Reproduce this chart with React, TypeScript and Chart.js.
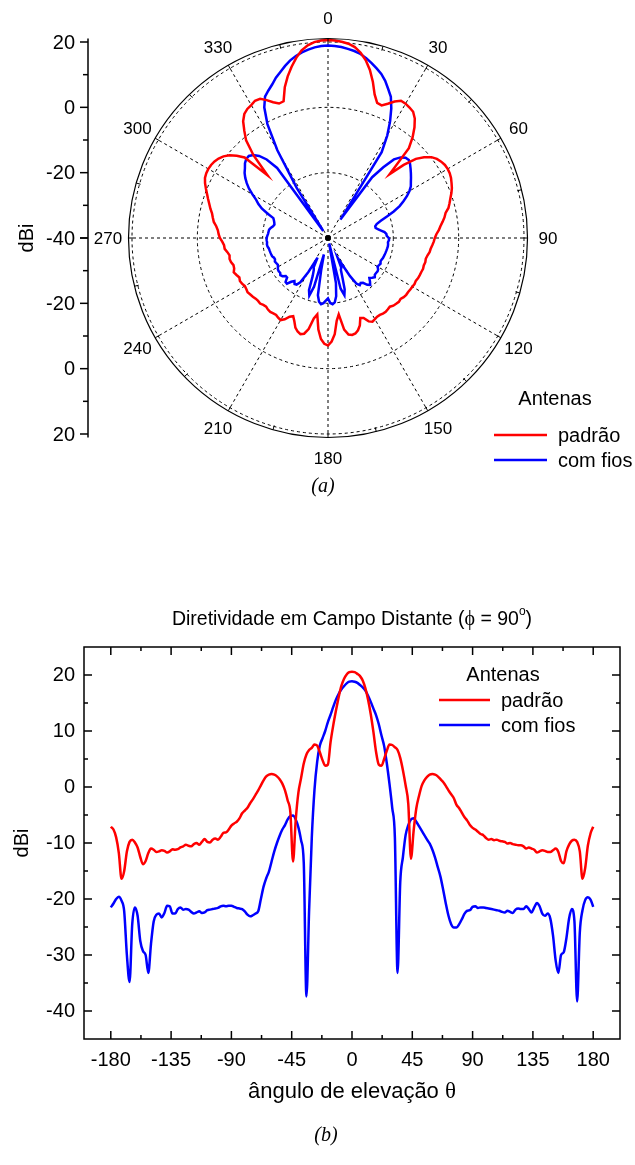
import React, { useEffect, useRef } from 'react';
import { Chart, registerables } from 'chart.js';

Chart.register(...registerables);

const SANS = '"Liberation Sans", Arial, Helvetica, sans-serif';
const SERIF = '"Liberation Serif", "Times New Roman", "DejaVu Serif", serif';

// elevation angle theta (deg), -180..180 step 2
const THETA = [
  -180, -178, -176, -174, -172, -170, -168, -166, -164, -162, -160, -158, -156, -154, -152, -150, -148, -146, -144, -142,
  -140, -138, -136, -134, -132, -130, -128, -126, -124, -122, -120, -118, -116, -114, -112, -110, -108, -106, -104, -102,
  -100, -98, -96, -94, -92, -90, -88, -86, -84, -82, -80, -78, -76, -74, -72, -70, -68, -66, -64, -62,
  -60, -58, -56, -54, -52, -50, -48, -46, -44, -42, -40, -38, -36, -34, -32, -30, -28, -26, -24, -22,
  -20, -18, -16, -14, -12, -10, -8, -6, -4, -2, 0, 2, 4, 6, 8, 10, 12, 14, 16, 18,
  20, 22, 24, 26, 28, 30, 32, 34, 36, 38, 40, 42, 44, 46, 48, 50, 52, 54, 56, 58,
  60, 62, 64, 66, 68, 70, 72, 74, 76, 78, 80, 82, 84, 86, 88, 90, 92, 94, 96, 98,
  100, 102, 104, 106, 108, 110, 112, 114, 116, 118, 120, 122, 124, 126, 128, 130, 132, 134, 136, 138,
  140, 142, 144, 146, 148, 150, 152, 154, 156, 158, 160, 162, 164, 166, 168, 170, 172, 174, 176, 178,
  180,
];

// "padrão" antenna directivity (dBi)
const PADRAO = [
  -7.1, -7.6, -9.0, -11.8, -16.4, -15.0, -11.5, -9.8, -9.4, -9.9, -10.8, -12.5, -13.8, -13.2, -11.8, -11.0, -11.2, -11.6, -11.5, -11.3,
  -11.4, -11.7, -11.5, -11.1, -11.2, -11.1, -10.8, -10.6, -10.3, -10.5, -10.6, -10.2, -10.0, -10.3, -9.8, -9.3, -9.8, -9.9, -9.4, -9.2,
  -9.4, -8.9, -8.2, -8.1, -7.6, -6.9, -6.5, -6.2, -5.6, -4.7, -4.2, -3.7, -2.9, -2.2, -1.4, -0.6, 0.3, 1.2, 1.9, 2.2,
  2.3, 2.2, 1.9, 1.4, 0.6, -0.6, -2.4, -4.5, -13.3, -5.9, -1.0, 1.6, 4.2, 5.8, 6.6, 7.0, 7.6, 7.4, 6.2, 4.8,
  3.8, 4.0, 8.0, 11.0, 13.6, 16.0, 18.0, 19.3, 20.1, 20.5, 20.6, 20.5, 20.2, 19.8, 19.0, 17.6, 15.6, 13.0, 9.8, 6.2,
  4.0, 3.8, 5.0, 6.5, 7.6, 7.5, 7.1, 6.6, 5.2, 3.0, 0.3, -3.0, -12.8, -7.8, -3.8, -1.6, 0.2, 1.2, 1.8, 2.2,
  2.3, 2.2, 1.9, 1.4, 0.9, 0.2, -0.6, -1.3, -2.0, -3.2, -3.8, -4.6, -5.4, -6.0, -6.8, -7.3, -7.6, -8.0, -8.4, -8.6,
  -9.1, -9.4, -9.3, -9.5, -9.4, -9.6, -9.7, -9.8, -10.1, -10.0, -10.2, -10.3, -10.4, -10.4, -10.6, -11.0, -10.8, -11.0, -11.2, -11.7,
  -11.5, -11.3, -11.4, -11.6, -11.6, -11.3, -11.0, -11.6, -13.2, -13.6, -11.5, -10.3, -9.6, -9.4, -9.8, -11.5, -16.4, -14.5, -10.5, -8.3,
  -7.1,
];

// "com fios" antenna directivity (dBi)
const COM_FIOS = [
  -21.5, -20.8, -20.0, -19.6, -20.3, -22.2, -30.0, -34.8, -24.5, -21.5, -23.0, -27.5, -29.3, -30.0, -33.2, -28.0, -24.0, -22.8, -22.6, -23.3,
  -22.5, -21.2, -21.3, -22.6, -22.6, -21.8, -21.5, -21.9, -21.8, -21.9, -22.3, -22.6, -22.4, -22.2, -22.5, -22.4, -22.0, -21.9, -21.8, -21.7,
  -21.6, -21.3, -21.2, -21.3, -21.2, -21.2, -21.4, -21.6, -21.7, -21.8, -22.2, -22.8, -23.1, -22.9, -22.6, -22.2, -20.0, -17.8, -16.3, -15.1,
  -13.3, -11.5, -10.0, -8.7, -7.6, -6.8, -5.8, -5.2, -5.1, -5.8, -7.2, -9.5, -13.5, -37.4, -22.0, -9.0, -0.5, 4.5, 7.4, 8.7,
  10.0, 11.6, 12.9, 14.3, 15.6, 16.6, 17.4, 18.0, 18.5, 18.8, 18.9, 18.8, 18.6, 18.2, 17.8, 17.2, 16.3, 15.2, 14.0, 12.8,
  11.2, 9.2, 7.3, 4.2, 0.5, -3.7, -9.0, -33.2, -17.0, -12.5, -8.6, -6.8, -5.8, -5.6, -6.2, -7.0, -7.8, -8.6, -9.4, -10.1,
  -11.2, -12.6, -14.3, -16.0, -18.3, -20.8, -23.0, -24.5, -25.1, -25.1, -24.5, -23.6, -22.6, -22.1, -22.0, -21.4, -21.3, -21.6, -21.5, -21.5,
  -21.6, -21.7, -21.8, -21.9, -22.0, -22.1, -22.3, -22.4, -22.1, -22.3, -22.5, -21.9, -21.7, -21.8, -21.8, -21.3, -21.8, -22.4, -21.5, -20.7,
  -21.3, -22.6, -23.0, -22.6, -23.5, -26.5, -31.0, -33.2, -30.0, -29.5, -27.0, -23.5, -21.8, -24.0, -38.3, -26.0, -22.0, -20.2, -19.7, -20.1,
  -21.4,
];

const SERIES_LABELS = ['padrão', 'com fios'];
const SERIES_COLORS = ['#ff0000', '#0000ff'];
const LEGEND_TITLE = 'Antenas';

// polar plot
const POLAR_LABEL_ANGLES = [0, 30, 60, 90, 120, 150, 180, 210, 240, 270, 300, 330];
const R_MIN = -40;
const R_MAX = 20;
const R_MAJOR = [20, 0, -20, -40];
const R_MINOR = [10, -10, -30];

// cartesian plot
const X_MAJOR = [-180, -135, -90, -45, 0, 45, 90, 135, 180];
const X_MINOR = [-157.5, -112.5, -67.5, -22.5, 22.5, 67.5, 112.5, 157.5];
const Y_MAJOR = [-40, -30, -20, -10, 0, 10, 20];
const Y_MINOR = [-45, -35, -25, -15, -5, 5, 15, 25];

const TITLE_B = ['Diretividade em Campo Distante (', 'ϕ', ' = 90', 'o', ')'];
const XTITLE_B = ['ângulo de elevação ', 'θ'];

type Part = { text: string; font: string; dy?: number };

function drawRich(ctx: CanvasRenderingContext2D, parts: Part[], cx: number, cy: number) {
  let total = 0;
  for (const p of parts) {
    ctx.font = p.font;
    total += ctx.measureText(p.text).width;
  }
  let x = cx - total / 2;
  ctx.textAlign = 'left';
  ctx.textBaseline = 'middle';
  for (const p of parts) {
    ctx.font = p.font;
    ctx.fillText(p.text, x, cy + (p.dy || 0));
    x += ctx.measureText(p.text).width;
  }
}

function drawLegend(ctx: CanvasRenderingContext2D, chart: any, titleX: number, titleY: number, lineX0: number, lineX1: number, textX: number, rowY: number[]) {
  ctx.save();
  ctx.fillStyle = '#000';
  ctx.font = `20px ${SANS}`;
  ctx.textAlign = 'center';
  ctx.textBaseline = 'middle';
  ctx.fillText(LEGEND_TITLE, titleX, titleY);
  chart.data.datasets.forEach((ds: any, i: number) => {
    ctx.strokeStyle = ds.borderColor;
    ctx.lineWidth = 2.5;
    ctx.beginPath();
    ctx.moveTo(lineX0, rowY[i]);
    ctx.lineTo(lineX1, rowY[i]);
    ctx.stroke();
    ctx.textAlign = 'left';
    ctx.fillText(ds.label, textX, rowY[i] + 1);
  });
  ctx.restore();
}

const polarDecor = {
  id: 'polarDecor',
  afterDatasetsDraw(chart: any) {
    const ctx: CanvasRenderingContext2D = chart.ctx;
    const s = chart.scales.r;
    const cx = s.xCenter;
    const cy = s.yCenter;
    const R = s.drawingArea;
    const Ro = R + 3.5;
    ctx.save();
    ctx.strokeStyle = '#000';
    ctx.lineWidth = 1.2;
    ctx.setLineDash([]);
    ctx.beginPath();
    ctx.arc(cx, cy, Ro, 0, Math.PI * 2);
    ctx.stroke();
    const n = chart.data.labels.length;
    const step = 360 / n;
    ctx.lineWidth = 1;
    for (let a = 0; a < 360; a += 15) {
      const idx = Math.round(a / step);
      const p0 = s.getPointPosition(idx, R - 1);
      const p1 = s.getPointPosition(idx, Ro);
      ctx.beginPath();
      ctx.moveTo(p0.x, p0.y);
      ctx.lineTo(p1.x, p1.y);
      ctx.stroke();
    }
    ctx.fillStyle = '#000';
    ctx.font = `17px ${SANS}`;
    ctx.textAlign = 'center';
    ctx.textBaseline = 'middle';
    POLAR_LABEL_ANGLES.forEach((a) => {
      const idx = Math.round(a / step);
      const p = s.getPointPosition(idx, R + 24);
      ctx.fillText(String(a), p.x, p.y + 1);
    });
    ctx.beginPath();
    ctx.arc(cx, cy, 3, 0, Math.PI * 2);
    ctx.fill();
    const ax = 88;
    ctx.lineWidth = 1.5;
    ctx.beginPath();
    ctx.moveTo(ax, cy - Ro);
    ctx.lineTo(ax, cy + Ro);
    ctx.stroke();
    ctx.font = `20px ${SANS}`;
    ctx.textAlign = 'right';
    R_MAJOR.forEach((v) => {
      const d = s.getDistanceFromCenterForValue(v);
      [cy - d, cy + d].forEach((y) => {
        ctx.beginPath();
        ctx.moveTo(ax - 8, y);
        ctx.lineTo(ax, y);
        ctx.stroke();
      });
      const ys = d === 0 ? [cy] : [cy - d, cy + d];
      ys.forEach((y) => ctx.fillText(String(v), ax - 13, y + 1));
    });
    R_MINOR.forEach((v) => {
      const d = s.getDistanceFromCenterForValue(v);
      [cy - d, cy + d].forEach((y) => {
        ctx.beginPath();
        ctx.moveTo(ax - 5, y);
        ctx.lineTo(ax, y);
        ctx.stroke();
      });
    });
    ctx.save();
    ctx.translate(27, cy);
    ctx.rotate(-Math.PI / 2);
    ctx.textAlign = 'center';
    ctx.font = `20px ${SANS}`;
    ctx.fillText('dBi', 0, 0);
    ctx.restore();
    drawLegend(ctx, chart, 555, 399, 494, 547, 558, [435, 460]);
    ctx.fillStyle = '#000';
    ctx.font = `italic 20px ${SERIF}`;
    ctx.textAlign = 'center';
    ctx.textBaseline = 'middle';
    ctx.fillText('(a)', 323, 487);
    ctx.restore();
  },
};

const cartDecor = {
  id: 'cartDecor',
  afterDatasetsDraw(chart: any) {
    const ctx: CanvasRenderingContext2D = chart.ctx;
    const { left, right, top, bottom } = chart.chartArea;
    const xs = chart.scales.x;
    const ys = chart.scales.y;
    ctx.save();
    ctx.strokeStyle = '#000';
    ctx.lineWidth = 1.5;
    ctx.strokeRect(left, top, right - left, bottom - top);
    const tick = (vals: number[], len: number) => {
      vals.forEach((v) => {
        const x = xs.getPixelForValue(v);
        ctx.beginPath();
        ctx.moveTo(x, bottom);
        ctx.lineTo(x, bottom - len);
        ctx.moveTo(x, top);
        ctx.lineTo(x, top + len);
        ctx.stroke();
      });
    };
    const tickY = (vals: number[], len: number) => {
      vals.forEach((v) => {
        const y = ys.getPixelForValue(v);
        ctx.beginPath();
        ctx.moveTo(left, y);
        ctx.lineTo(left + len, y);
        ctx.moveTo(right, y);
        ctx.lineTo(right - len, y);
        ctx.stroke();
      });
    };
    tick(X_MAJOR, 8);
    tick(X_MINOR, 4);
    tickY(Y_MAJOR, 8);
    tickY(Y_MINOR.filter((v) => v > -45 && v < 25), 4);
    ctx.fillStyle = '#000';
    const cx = (left + right) / 2;
    drawRich(ctx, [
      { text: TITLE_B[0], font: `19.5px ${SANS}` },
      { text: TITLE_B[1], font: `20px ${SERIF}` },
      { text: TITLE_B[2], font: `19.5px ${SANS}` },
      { text: TITLE_B[3], font: `12px ${SANS}`, dy: -8 },
      { text: TITLE_B[4], font: `19.5px ${SANS}` },
    ], cx, 60);
    drawRich(ctx, [
      { text: XTITLE_B[0], font: `22px ${SANS}` },
      { text: XTITLE_B[1], font: `23px ${SERIF}` },
    ], cx, 532);
    drawLegend(ctx, chart, 503, 115, 439, 490, 501, [140, 165]);
    ctx.font = `italic 20px ${SERIF}`;
    ctx.textAlign = 'center';
    ctx.textBaseline = 'middle';
    ctx.fillText('(b)', 326, 576);
    ctx.restore();
  },
};

export default function App() {
  const polarRef = useRef<HTMLCanvasElement>(null);
  const cartRef = useRef<HTMLCanvasElement>(null);

  useEffect(() => {
    const polarAngles = THETA.filter((t) => t >= 0 && t < 180).concat(THETA.filter((t) => t >= -180 && t < 0));
    const toPolar = (arr: number[]) => polarAngles.map((t) => arr[THETA.indexOf(t)]);
    const polarLabels = polarAngles.map((t) => (t < 0 ? t + 360 : t));

    const polar = new Chart(polarRef.current!, {
      type: 'radar',
      data: {
        labels: polarLabels,
        datasets: [PADRAO, COM_FIOS].map((arr, i) => ({
          label: SERIES_LABELS[i],
          data: toPolar(arr),
          borderColor: SERIES_COLORS[i],
          backgroundColor: SERIES_COLORS[i],
          borderWidth: 2.5,
          pointRadius: 0,
          fill: false,
          tension: 0,
        })),
      },
      options: {
        responsive: false,
        animation: false,
        layout: { padding: { left: 132, right: 111, top: 42, bottom: 86 } },
        plugins: { legend: { display: false }, tooltip: { enabled: false }, title: { display: false } },
        scales: {
          r: {
            min: R_MIN,
            max: R_MAX,
            startAngle: 0,
            ticks: { display: false, stepSize: 20 },
            pointLabels: { display: false },
            grid: { circular: true, color: '#000', lineWidth: 1 },
            border: { dash: [3, 3] },
            angleLines: {
              display: true,
              color: '#000',
              lineWidth: (c: any) => (c.index % 15 === 0 ? 1 : 0),
              borderDash: [3, 3],
            },
          },
        },
      } as any,
      plugins: [polarDecor],
    });

    const cart = new Chart(cartRef.current!, {
      type: 'line',
      data: {
        datasets: [PADRAO, COM_FIOS].map((arr, i) => ({
          label: SERIES_LABELS[i],
          data: THETA.map((t, k) => ({ x: t, y: arr[k] })),
          borderColor: SERIES_COLORS[i],
          backgroundColor: SERIES_COLORS[i],
          borderWidth: 2.5,
          pointRadius: 0,
          fill: false,
          cubicInterpolationMode: 'monotone',
        })),
      },
      options: {
        responsive: false,
        animation: false,
        layout: { padding: { left: 0, right: 15, top: 87, bottom: 0 } },
        plugins: { legend: { display: false }, tooltip: { enabled: false }, title: { display: false } },
        scales: {
          x: {
            type: 'linear',
            min: -200,
            max: 200,
            afterBuildTicks: (s: any) => { s.ticks = X_MAJOR.map((v) => ({ value: v })); },
            afterFit: (s: any) => { s.height = 126; },
            grid: { display: false, drawTicks: false },
            border: { display: false },
            ticks: { padding: 9, color: '#000', font: { family: SANS, size: 20 }, maxRotation: 0, autoSkip: false },
          },
          y: {
            type: 'linear',
            min: -45,
            max: 25,
            afterBuildTicks: (s: any) => { s.ticks = Y_MAJOR.map((v) => ({ value: v })); },
            afterFit: (s: any) => { s.width = 84; },
            grid: { display: false, drawTicks: false },
            border: { display: false },
            ticks: { padding: 9, color: '#000', font: { family: SANS, size: 20 }, autoSkip: false },
            title: { display: true, text: 'dBi', color: '#000', font: { family: SANS, size: 20 }, padding: { top: 10, bottom: 0 } },
          },
        },
      } as any,
      plugins: [cartDecor],
    });

    return () => {
      polar.destroy();
      cart.destroy();
    };
  }, []);

  return (
    <div style={{ position: 'absolute', left: 0, top: 0, width: 635, height: 1165, background: '#fff' }}>
      <canvas ref={polarRef} width={635} height={520} style={{ position: 'absolute', left: 0, top: 0, width: 635, height: 520 }} />
      <canvas ref={cartRef} width={635} height={605} style={{ position: 'absolute', left: 0, top: 560, width: 635, height: 605 }} />
    </div>
  );
}
